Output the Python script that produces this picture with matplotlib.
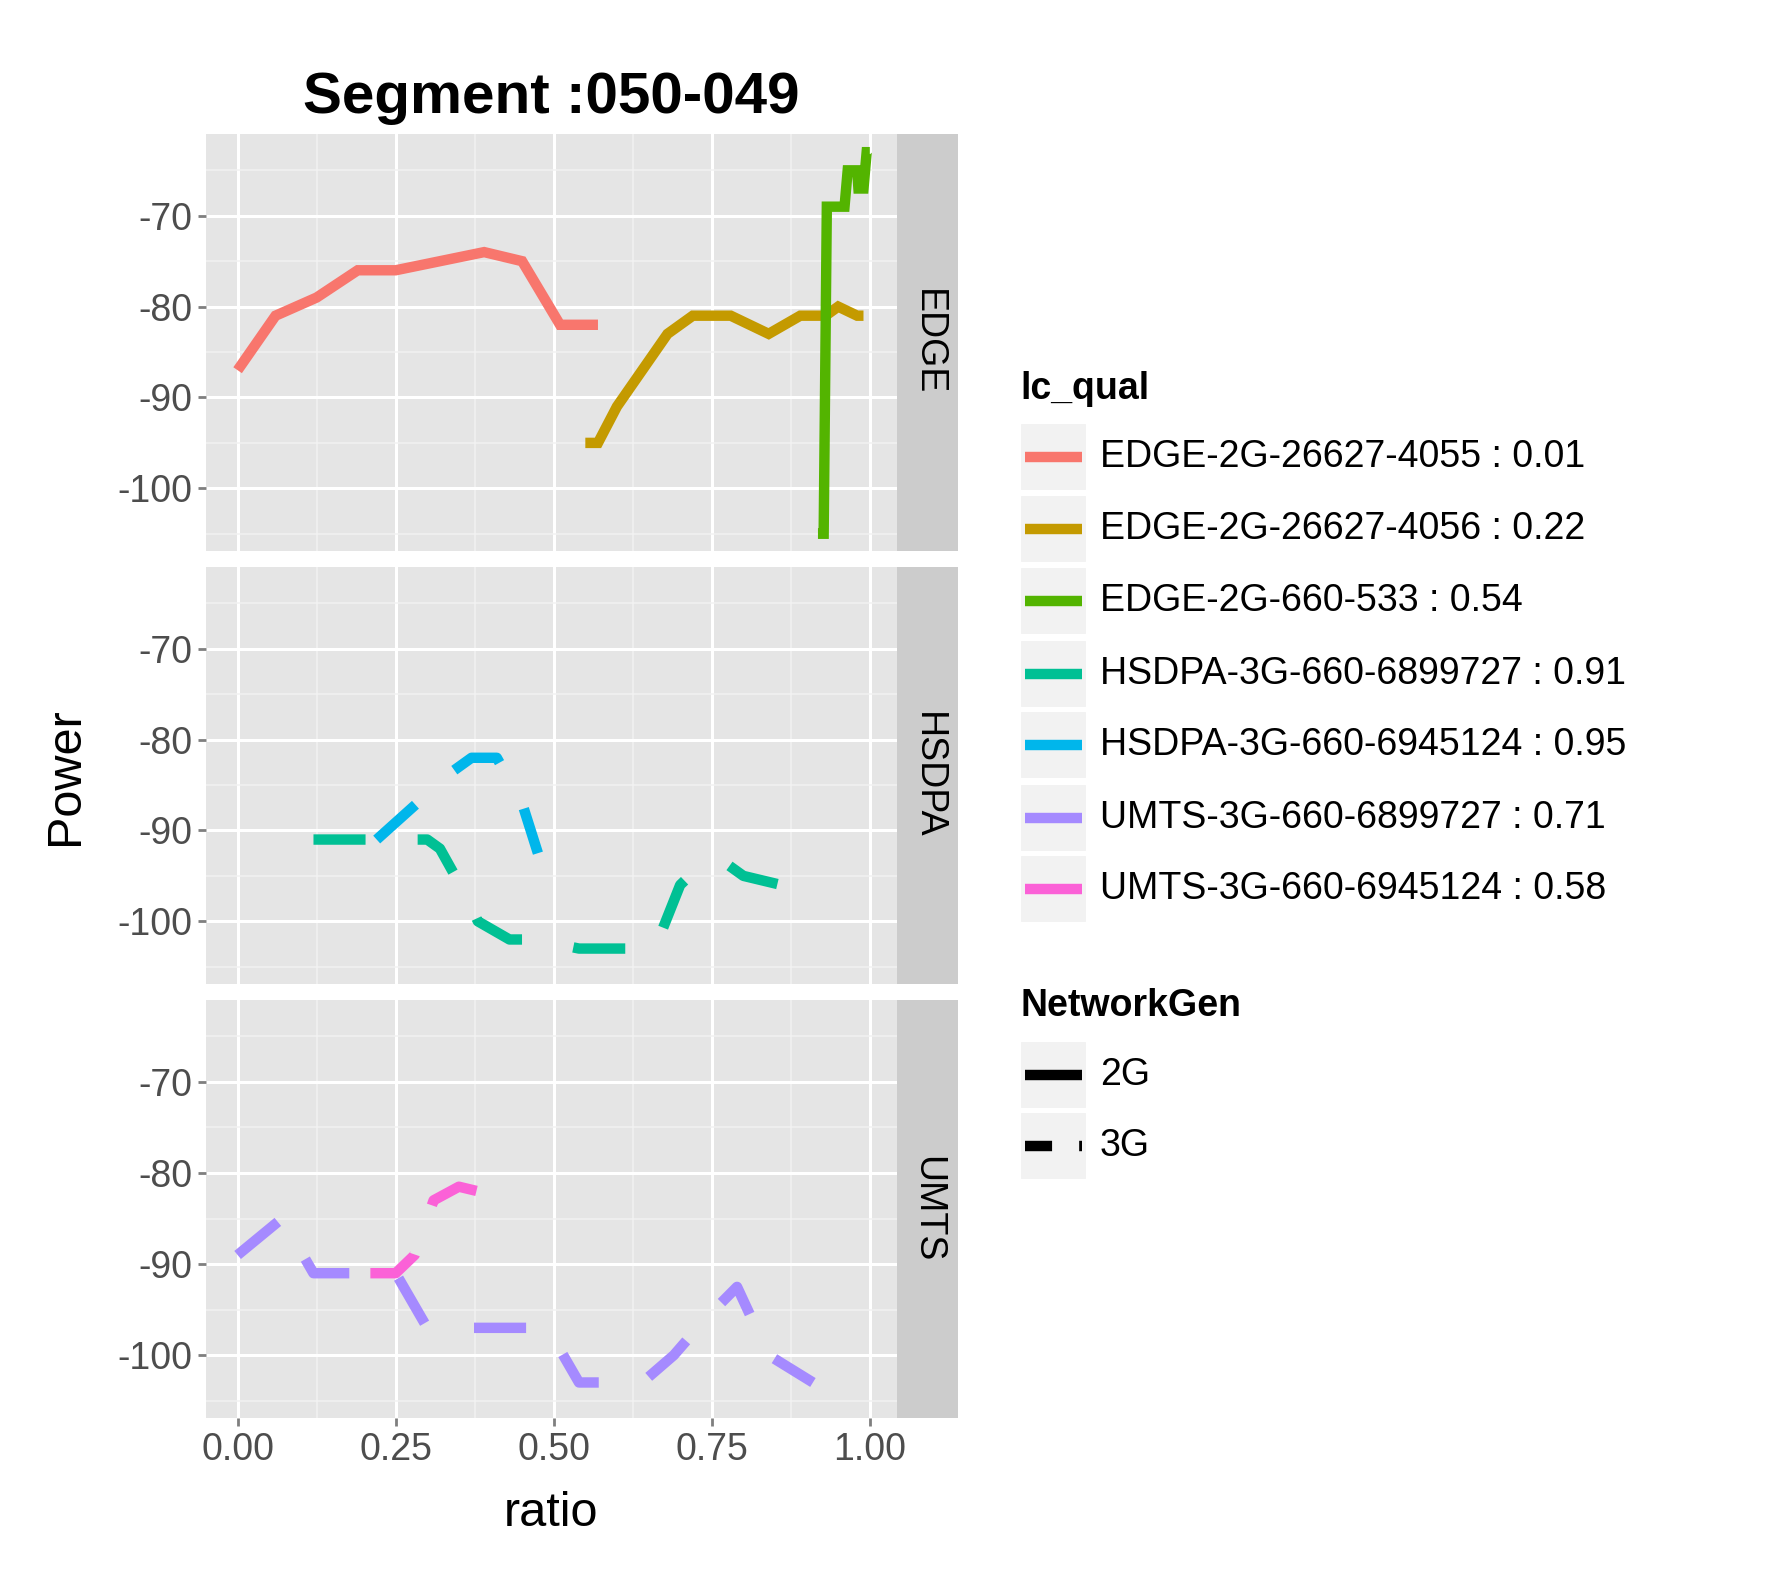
import matplotlib
matplotlib.use("Agg")
import matplotlib.pyplot as plt
from matplotlib.patches import Rectangle
from matplotlib.lines import Line2D

plt.rcParams['font.family'] = ['Liberation Sans', 'DejaVu Sans']

facets = ["EDGE", "HSDPA", "UMTS"]
series_names = ["EDGE-2G-26627-4055 : 0.01", "EDGE-2G-26627-4056 : 0.22", "EDGE-2G-660-533 : 0.54",
                "HSDPA-3G-660-6899727 : 0.91", "HSDPA-3G-660-6945124 : 0.95",
                "UMTS-3G-660-6899727 : 0.71", "UMTS-3G-660-6945124 : 0.58"]
series_colors = ["#F8766D", "#C49A00", "#53B400", "#00C094", "#00B6EB", "#A58AFF", "#FB61D7"]
series_facet = ["EDGE", "EDGE", "EDGE", "HSDPA", "HSDPA", "UMTS", "UMTS"]
series_gen = ["2G", "2G", "2G", "3G", "3G", "3G", "3G"]

x_4055 = [0.0, 0.06, 0.125, 0.19, 0.25, 0.32, 0.39, 0.45, 0.51, 0.57]
y_4055 = [-87, -81, -79, -76, -76, -75, -74, -75, -82, -82]
x_4056 = [0.55, 0.57, 0.6, 0.64, 0.68, 0.7, 0.72, 0.78, 0.84, 0.89, 0.93, 0.95, 0.98, 0.99]
y_4056 = [-95, -95, -91, -87, -83, -82, -81, -81, -83, -81, -81, -80, -81, -81]
x_533 = [0.918, 0.927, 0.932, 0.96, 0.965, 0.98, 0.982, 0.99, 0.995, 1.0]
y_533 = [-105, -105, -69, -69, -65, -65, -67, -67, -63, -63]
x_h727 = [0.12, 0.3, 0.32, 0.36, 0.38, 0.43, 0.47, 0.54, 0.62, 0.66, 0.7, 0.73, 0.77, 0.8, 0.86]
y_h727 = [-91, -91, -92, -97, -100, -102, -102, -103, -103, -103, -96, -94, -93.5, -95, -96]
x_h124 = [0.22, 0.3, 0.33, 0.37, 0.41, 0.45, 0.475]
y_h124 = [-91, -86, -84, -82, -82, -87, -92.5]
x_u727 = [0.0, 0.07, 0.12, 0.19, 0.25, 0.3, 0.35, 0.44, 0.49, 0.54, 0.56, 0.64, 0.69, 0.74, 0.79, 0.84, 0.91]
y_u727 = [-89, -85, -91, -91, -91, -97, -97, -97, -97, -103, -103, -103, -100, -96, -92.5, -100, -103]
x_u124 = [0.21, 0.25, 0.28, 0.31, 0.35, 0.38, 0.41]
y_u124 = [-91, -91, -89, -83, -81.5, -82, -85]
series_x = [x_4055, x_4056, x_533, x_h727, x_h124, x_u727, x_u124]
series_y = [y_4055, y_4056, y_533, y_h727, y_h124, y_u727, y_u124]

yticks = [-70, -80, -90, -100]
xticks = [0.0, 0.25, 0.5, 0.75, 1.0]
xticklabels = ["0.00", "0.25", "0.50", "0.75", "1.00"]

W, H = 1779, 1574
fig = plt.figure(figsize=(W/100, H/100), dpi=100)
def fx(p): return p / W
def fy(p): return 1 - p / H

left, pright, sw = 206, 897, 61
panels = [(134, 551), (567, 984), (1000, 1418)]
lw = 7.5
dash = (0, (5, 5))
for i, (t, b) in enumerate(panels):
    ax = fig.add_axes([fx(left), fy(b), fx(pright - left), (b - t) / H])
    ax.set_facecolor("#E5E5E5")
    ax.set_xlim(-0.05, 1.043)
    ax.set_ylim(-106.9, -61)
    for s in ax.spines.values():
        s.set_visible(False)
    ax.set_xticks(xticks)
    ax.set_yticks(yticks)
    ax.set_xticks([0.125, 0.375, 0.625, 0.875], minor=True)
    ax.set_yticks([-65, -75, -85, -95, -105], minor=True)
    ax.grid(True, which='major', color='white', lw=2.2)
    ax.grid(True, which='minor', color='#F2F2F2', lw=1.1)
    ax.set_axisbelow(True)
    ax.tick_params(which='minor', length=0)
    ax.tick_params(which='major', length=6, width=2, color='#7F7F7F', labelsize=27, labelcolor='#4D4D4D', pad=4)
    ax.set_yticklabels([str(v) for v in yticks])
    if i < 2:
        ax.set_xticklabels([])
        ax.tick_params(axis='x', length=0)
    else:
        ax.set_xticklabels(xticklabels)
    for k in range(len(series_names)):
        if series_facet[k] != facets[i]:
            continue
        ls = '-' if series_gen[k] == '2G' else dash
        ax.plot(series_x[k], series_y[k], color=series_colors[k], lw=lw, ls=ls,
                solid_capstyle='butt', dash_capstyle='butt', solid_joinstyle='miter')
    sax = fig.add_axes([fx(pright), fy(b), fx(sw), (b - t) / H])
    sax.set_facecolor("#CCCCCC")
    sax.set_xticks([]); sax.set_yticks([])
    for s in sax.spines.values():
        s.set_visible(False)
    sax.text(0.5, 0.5, facets[i], rotation=-90, ha='center', va='center', fontsize=27, transform=sax.transAxes)

fig.text(fx(551), fy(98), "Segment :050-049", ha='center', va='center', fontsize=42, fontweight='bold')
fig.text(fx(551), fy(1513), "ratio", ha='center', va='center', fontsize=35)
fig.text(fx(66), fy(776), "Power", ha='center', va='center', fontsize=35, rotation=90)

# legends
kx, kw = 1020, 67
fig.text(fx(kx), fy(389), "lc_qual", ha='left', va='center', fontsize=27, fontweight='bold')
rows = [457, 529, 601, 674, 745, 818, 889]
for k, ry in enumerate(rows):
    fig.patches.append(Rectangle((fx(kx), fy(ry + 34)), fx(kw), 68 / H, transform=fig.transFigure,
                                 facecolor='#F2F2F2', edgecolor='white', lw=1.5))
    fig.lines.append(Line2D([fx(kx + 5), fx(kx + kw - 5)], [fy(ry), fy(ry)], transform=fig.transFigure,
                            color=series_colors[k], lw=lw, solid_capstyle='butt'))
    fig.text(fx(1100), fy(ry), series_names[k], ha='left', va='center', fontsize=27)

fig.text(fx(kx), fy(1006), "NetworkGen", ha='left', va='center', fontsize=27, fontweight='bold')
for j, (ry, lab) in enumerate([(1075, "2G"), (1146, "3G")]):
    fig.patches.append(Rectangle((fx(kx), fy(ry + 34)), fx(kw), 68 / H, transform=fig.transFigure,
                                 facecolor='#F2F2F2', edgecolor='white', lw=1.5))
    ls = '-' if lab == "2G" else (0, (2.6, 2.6))
    fig.lines.append(Line2D([fx(kx + 5), fx(kx + kw - 5)], [fy(ry), fy(ry)], transform=fig.transFigure,
                            color='black', lw=lw, ls=ls, solid_capstyle='butt', dash_capstyle='butt'))
    fig.text(fx(1100), fy(ry), lab, ha='left', va='center', fontsize=27)

fig.savefig("out.png", dpi=100, facecolor='white')
